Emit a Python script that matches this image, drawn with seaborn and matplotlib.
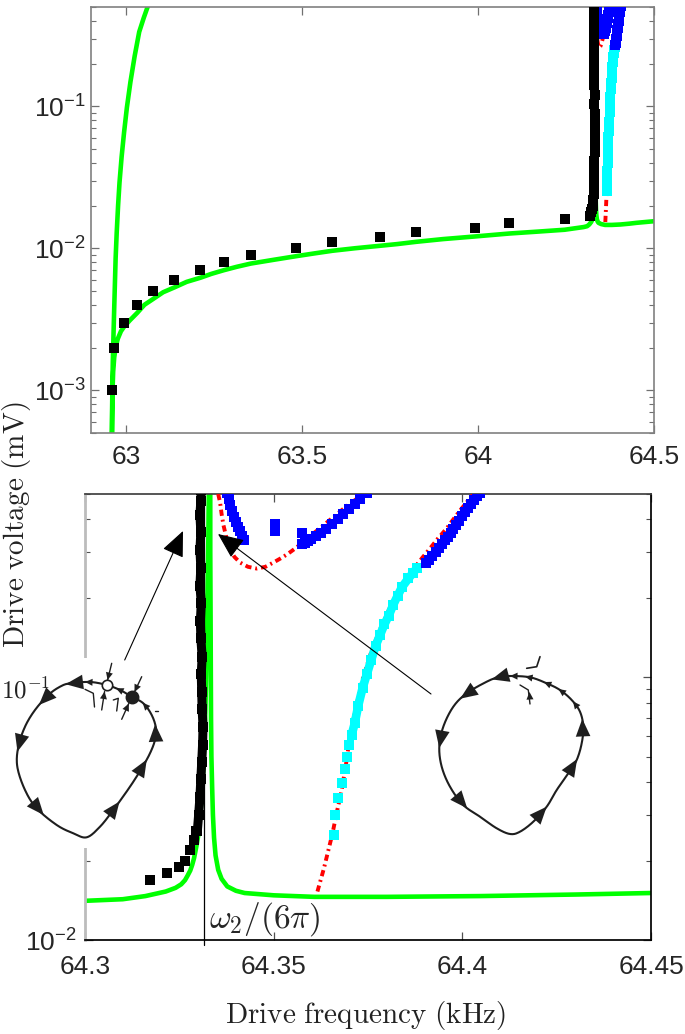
import numpy as np
import matplotlib
matplotlib.use("Agg")
import matplotlib.pyplot as plt
import seaborn as sns
from matplotlib.patches import Rectangle
from matplotlib.ticker import LogLocator, NullFormatter, FixedLocator, FixedFormatter, LogFormatterSciNotation

# ---------------- data ----------------
# theoretical response curve (green)
green_f = [63.066, 63.062, 63.050, 63.037, 63.024, 63.012, 63.002, 62.994, 62.987, 62.981,
           62.977, 62.973, 62.970, 62.968, 62.966, 62.964, 62.962, 62.961, 62.960, 62.9595,
           62.9592, 62.9600, 62.9612, 62.9630, 62.9660, 62.970, 62.976, 62.985, 62.994, 63.010,
           63.031, 63.052, 63.077, 63.105, 63.137, 63.172, 63.211, 63.242, 63.277, 63.314,
           63.354, 63.42, 63.484, 63.535, 63.586, 63.65, 63.72, 63.77, 63.824, 63.90,
           63.99, 64.04, 64.089, 64.17, 64.246, 64.30, 64.31, 64.316, 64.3214, 64.324,
           64.3255, 64.3265, 64.3272, 64.3279, 64.3284, 64.3289, 64.3293, 64.3297, 64.3301, 64.3305,
           64.3309, 64.3313, 64.3316, 64.3319, 64.3321, 64.3323, 64.3325, 64.3327, 64.3328, 64.3329,
           64.3332, 64.3332, 64.3333, 64.33335, 64.3334, 64.3335, 64.3337, 64.3339, 64.3342, 64.3346,
           64.3353, 64.3362, 64.3377, 64.3400, 64.3423, 64.350, 64.3608, 64.380, 64.4048, 64.430,
           64.450, 64.500]
green_v = [0.56, 0.51, 0.42, 0.334, 0.225, 0.148, 0.098, 0.0655, 0.044, 0.029,
           0.020, 0.0128, 0.0085, 0.0057, 0.0038, 0.0025, 0.0016, 0.00111, 0.00075, 0.00048,
           0.00040, 0.0006, 0.0010, 0.00135, 0.0017, 0.0020, 0.0023, 0.0026, 0.0028, 0.0031,
           0.0035, 0.0040, 0.0044, 0.0049, 0.0053, 0.0058, 0.0062, 0.0066, 0.0070, 0.0074,
           0.0078, 0.0083, 0.0088, 0.0092, 0.0096, 0.0100, 0.0104, 0.0107, 0.0111, 0.0116,
           0.0121, 0.0124, 0.0127, 0.0131, 0.0135, 0.0141, 0.0143, 0.0147, 0.0153, 0.0158,
           0.0163, 0.0169, 0.0176, 0.0184, 0.0193, 0.0205, 0.0219, 0.0235, 0.0255, 0.0295,
           0.0348, 0.044, 0.0555, 0.075, 0.103, 0.15, 0.224, 0.35, 0.50, 0.80,
           0.80, 0.30, 0.15, 0.10, 0.07, 0.05, 0.038, 0.030, 0.0245, 0.021,
           0.0185, 0.0171, 0.0160, 0.0154, 0.0151, 0.0148, 0.0146, 0.0146, 0.0147, 0.0149,
           0.0151, 0.0155]

# experimental points (black squares)
black_f = [62.96, 62.966, 62.994, 63.031, 63.077, 63.137, 63.211, 63.277, 63.354, 63.484,
           63.586, 63.72, 63.824, 63.99, 64.089, 64.246, 64.3171, 64.3218, 64.3249, 64.3264,
           64.3278, 64.3289, 64.3295]
black_v = [0.001, 0.002, 0.003, 0.004, 0.005, 0.006, 0.007, 0.008, 0.009, 0.010,
           0.011, 0.012, 0.013, 0.014, 0.015, 0.016, 0.017, 0.018, 0.019, 0.020,
           0.022, 0.024, 0.026]
# dense black column of experimental points
blackcol_f = [64.32977, 64.33012, 64.33046, 64.33070, 64.33093, 64.33116, 64.33128, 64.33104,
              64.33093, 64.33081, 64.33104, 64.33070, 64.33058, 64.33081, 64.33046, 64.33070,
              64.33046, 64.33070, 64.33046, 64.33070, 64.33080]
blackcol_v = [0.026, 0.030, 0.035, 0.041, 0.0475, 0.0555, 0.065, 0.0757,
              0.0883, 0.103, 0.12, 0.141, 0.164, 0.192, 0.224, 0.262,
              0.306, 0.357, 0.417, 0.47, 0.52]

# blue squares
blue1_f = [64.3377, 64.3381, 64.3385, 64.3390, 64.3395, 64.3400, 64.3406, 64.3412, 64.3417, 64.3421]
blue1_v = [0.505, 0.48, 0.455, 0.43, 0.41, 0.39, 0.375, 0.36, 0.345, 0.335]
blue2_f = [64.3504, 64.3504]
blue2_v = [0.385, 0.362]
blue3_f = [64.3576, 64.3574, 64.3582, 64.3590, 64.3600, 64.3612, 64.3625, 64.3640, 64.3655,
           64.3670, 64.3685, 64.3700, 64.3715, 64.3730, 64.3748]
blue3_v = [0.356, 0.322, 0.325, 0.330, 0.337, 0.345, 0.355, 0.367, 0.385,
           0.400, 0.418, 0.438, 0.458, 0.478, 0.505]
blue4_f = [64.3905, 64.3912, 64.3920, 64.3929, 64.3937, 64.3945, 64.3953, 64.3961, 64.3969,
           64.3976, 64.3984, 64.3992, 64.4000, 64.4008, 64.4016, 64.4024, 64.4032, 64.4040, 64.4048]
blue4_v = [0.272, 0.280, 0.290, 0.300, 0.312, 0.322, 0.333, 0.343, 0.355,
           0.368, 0.382, 0.396, 0.412, 0.428, 0.443, 0.46, 0.475, 0.49, 0.505]

# cyan squares
cyan_f = [64.36603, 64.36637, 64.36718, 64.36811, 64.36892, 64.36950, 64.37008, 64.37066,
          64.37147, 64.37240, 64.37356, 64.37471, 64.37587, 64.37703, 64.37819, 64.37935,
          64.38050, 64.38166, 64.38282, 64.38398, 64.38572, 64.38688, 64.38803]
cyan_v = [0.02514, 0.0300, 0.03481, 0.03967, 0.04463, 0.04975, 0.05511, 0.06048,
          0.0668, 0.07802, 0.0911, 0.1031, 0.1168, 0.1322, 0.1451, 0.1593,
          0.1721, 0.1889, 0.2042, 0.2207, 0.2384, 0.2498, 0.2617]
cyan_dense_from = 7

# red dash-dot curves
red1_f = [64.3353, 64.3358, 64.3362, 64.3367, 64.3375, 64.3384, 64.3396, 64.3411, 64.3432, 64.3455,
          64.3478, 64.3499, 64.3518, 64.3535, 64.3561, 64.3579, 64.3614, 64.3658, 64.3694, 64.3729, 64.3745]
red1_v = [0.50, 0.464, 0.42, 0.38, 0.34, 0.308, 0.288, 0.274, 0.264, 0.26,
          0.264, 0.274, 0.284, 0.294, 0.313, 0.33, 0.362, 0.408, 0.45, 0.49, 0.51]
red2_f = [64.3616, 64.3633, 64.3656, 64.3668, 64.3680, 64.3692, 64.3703, 64.3720, 64.3737, 64.3760,
          64.3784, 64.3807, 64.3830, 64.3853, 64.3877, 64.3894, 64.3911, 64.3935, 64.3958, 64.3976,
          64.3993, 64.4010, 64.4027, 64.4033]
red2_v = [0.0153, 0.0187, 0.0255, 0.031, 0.037, 0.047, 0.061, 0.079, 0.10, 0.127,
          0.155, 0.183, 0.211, 0.238, 0.266, 0.286, 0.306, 0.338, 0.369, 0.40,
          0.431, 0.462, 0.495, 0.51]

omega_f = 64.3315

top_xticks = [63, 63.5, 64, 64.5]
top_xlabels = ["63", "63.5", "64", "64.5"]
bot_xticks = [64.3, 64.35, 64.4, 64.45]
bot_xlabels = ["64.3", "64.35", "64.4", "64.45"]

# ---------------- style ----------------
sns.set_theme(style="white")
plt.rcParams["font.family"] = ["Liberation Sans", "DejaVu Sans"]

W, H = 685, 1034
fig = plt.figure(figsize=(W / 100, H / 100), dpi=100)


def fx(px):
    return px / W


def fy(py):
    return 1 - py / H


ax1 = fig.add_axes([fx(91), fy(433), fx(654 - 91), (433 - 7) / H])
ax2 = fig.add_axes([fx(85), fy(940), fx(651 - 85), (940 - 494) / H])

GREEN, RED, BLUE, CYAN = "#00ff00", "#ff0000", "#0000ff", "#00ffff"
MS = 46


def draw(ax):
    ax.set_yscale("log")
    sns.lineplot(x=green_f, y=green_v, ax=ax, color=GREEN, lw=3.3, sort=False,
                 estimator=None, zorder=2)
    for rf, rv in ((red1_f, red1_v), (red2_f, red2_v)):
        sns.lineplot(x=rf, y=rv, ax=ax, color=RED, lw=2.8, sort=False, estimator=None,
                     linestyle=(0, (1.6, 1.0, 0.5, 1.0)), zorder=3)
    sns.lineplot(x=cyan_f[cyan_dense_from:], y=cyan_v[cyan_dense_from:], ax=ax, color=CYAN,
                 lw=6.2, sort=False, estimator=None, zorder=4)
    sns.scatterplot(x=cyan_f, y=cyan_v, ax=ax, color=CYAN, marker="s", s=MS,
                    linewidth=0, zorder=4, legend=False)
    for bf, bv in ((blue1_f, blue1_v), (blue2_f, blue2_v), (blue3_f, blue3_v), (blue4_f, blue4_v)):
        sns.scatterplot(x=bf, y=bv, ax=ax, color=BLUE, marker="s", s=MS,
                        linewidth=0, zorder=4, legend=False)
    sns.lineplot(x=blackcol_f, y=blackcol_v, ax=ax, color="black", lw=6.5, sort=False,
                 estimator=None, zorder=5)
    sns.scatterplot(x=black_f + blackcol_f, y=black_v + blackcol_v, ax=ax, color="black",
                    marker="s", s=MS, linewidth=0, zorder=5, legend=False)


draw(ax1)
draw(ax2)

# ---- top panel axes ----
ax1.set_xlim(62.9, 64.5)
ax1.set_ylim(5e-4, 0.5)
ax1.set_xticks(top_xticks)
ax1.set_xticklabels(top_xlabels)
ax1.yaxis.set_major_locator(LogLocator(base=10))
ax1.yaxis.set_major_formatter(LogFormatterSciNotation())
ax1.yaxis.set_minor_locator(LogLocator(base=10, subs=np.arange(2, 10)))
ax1.yaxis.set_minor_formatter(NullFormatter())
for s in ax1.spines.values():
    s.set_color("#808080")
    s.set_linewidth(1.2)
ax1.tick_params(which="both", direction="in", top=True, right=True, left=True, bottom=True,
                color="#707070", labelsize=19, labelcolor="#262626")
ax1.tick_params(which="major", length=6, width=0.9)
ax1.tick_params(which="minor", length=3.5, width=0.8)
ax1.tick_params(axis="x", pad=9)
ax1.tick_params(axis="y", pad=4)
ax1.set_xlabel("")
ax1.set_ylabel("")

# ---- bottom panel axes ----
ax2.axvline(omega_f, ymin=-0.012, ymax=1.0, color="black", lw=0.9, zorder=6, clip_on=False)
ax2.set_xlim(64.3, 64.45)
ax2.set_ylim(0.01, 0.5)
ax2.set_xticks(bot_xticks)
ax2.set_xticklabels(bot_xlabels)
ax2.yaxis.set_major_locator(FixedLocator([0.01, 0.1]))
ax2.yaxis.set_major_formatter(FixedFormatter([r"$\mathdefault{10^{-2}}$", ""]))
ax2.yaxis.set_minor_locator(LogLocator(base=10, subs=np.arange(2, 10)))
ax2.yaxis.set_minor_formatter(NullFormatter())
ax2.spines["top"].set_color("#404040")
ax2.spines["right"].set_color("black")
ax2.spines["bottom"].set_color("black")
ax2.spines["left"].set_color("#bcbcbc")
ax2.spines["left"].set_linewidth(2.0)
ax2.tick_params(which="both", direction="in", top=True, right=True, left=True, bottom=True,
                color="#505050", labelsize=19, labelcolor="#262626")
ax2.tick_params(which="major", length=6, width=0.9)
ax2.tick_params(which="minor", length=3.5, width=0.8)
ax2.tick_params(axis="x", pad=11)
ax2.tick_params(axis="y", pad=6)
ax2.set_xlabel("")
ax2.set_ylabel("")

fig.text(fx(209), fy(919), r"$\omega_2/(6\pi)$", fontsize=24, math_fontfamily="cm",
         ha="left", va="center", zorder=7)

# axis titles (Computer Modern)
fig.text(fx(366), fy(1016), r"$\mathrm{Drive\ frequency\ (kHz)}$", fontsize=21,
         math_fontfamily="cm", ha="center", va="center", color="#222222")
fig.text(fx(17), fy(525), r"$\mathrm{Drive\ voltage\ (mV)}$", fontsize=21, rotation=90,
         math_fontfamily="cm", ha="center", va="center", color="#222222")

# ---------------- phase-portrait sketches (overlay in pixel coords) ----------------
ov = fig.add_axes([0, 0, 1, 1], zorder=10)
ov.set_xlim(0, W)
ov.set_ylim(H, 0)
ov.axis("off")
ov.patch.set_alpha(0)

INK = "#1e1e1e"


def closed_spline(pts, n=16):
    P = np.asarray(pts, float)
    m = len(P)
    segs = []
    t = np.linspace(0, 1, n, endpoint=False)[:, None]
    for i in range(m):
        p0, p1, p2, p3 = P[i - 1], P[i], P[(i + 1) % m], P[(i + 2) % m]
        seg = 0.5 * ((2 * p1) + (-p0 + p2) * t + (2 * p0 - 5 * p1 + 4 * p2 - p3) * t ** 2
                     + (-p0 + 3 * p1 - 3 * p2 + p3) * t ** 3)
        segs.append(seg)
    out = np.vstack(segs)
    return np.vstack([out, out[:1]])


def head(ax, a, b, scale=12, hw=0.24):
    ax.annotate("", xy=b, xytext=a,
                arrowprops=dict(arrowstyle=f"-|>,head_length=0.6,head_width={hw}", color=INK,
                                lw=0.01, mutation_scale=scale, shrinkA=0, shrinkB=0))


def loop(ax, pts, arrows, small=()):
    c = closed_spline(pts)
    ax.plot(c[:, 0], c[:, 1], color=INK, lw=1.5, solid_capstyle="round")
    N = len(c) - 1
    for (x, y) in arrows:
        i = int(np.argmin((c[:-1, 0] - x) ** 2 + (c[:-1, 1] - y) ** 2))
        head(ax, c[(i + 8) % N], c[(i - 8) % N], 21, 0.25)
    for (x, y) in small:
        i = int(np.argmin((c[:-1, 0] - x) ** 2 + (c[:-1, 1] - y) ** 2))
        head(ax, c[(i + 4) % N], c[(i - 4) % N], 9, 0.28)


# left sketch: white backing hides the spine, as in the original figure
ov.add_patch(Rectangle((0, 658), 168, 190, facecolor="white", edgecolor="none", zorder=0))
left_pts = [(70, 683.3), (90, 682), (106.7, 685), (120, 690), (131.7, 696.7), (143.3, 703.3),
            (151.7, 715), (156, 728.3), (155, 740), (150, 753.3), (141.7, 768.3), (130, 786.7),
            (113.3, 810), (100, 826.7), (86.7, 837.3), (73.3, 833.3), (56.7, 825), (36.7, 808.3),
            (25, 790), (17.3, 766.7), (18.3, 746.7), (25, 726.7), (35, 710), (48.3, 695), (60, 686.7)]
loop(ov, left_pts,
     arrows=[(71.7, 682.7), (48.3, 700), (23.3, 743.3), (35, 806.7), (113.3, 813.3),
             (141.7, 766.7), (154, 730.7)],
     small=[(90, 682.3), (119, 690), (145, 705)])
for (a, b) in [((111.7, 663.3), (107.6, 680)), ((101.7, 710), (104.6, 691.5)),
               ((141.7, 676.7), (134.5, 692)), ((121.7, 719.3), (128.8, 703.5))]:
    ov.plot([a[0], b[0]], [a[1], b[1]], color=INK, lw=1.0)
    head(ov, a, b, 9, 0.28)
ov.plot([85, 93.3, 94.5], [689.3, 693.3, 707], color=INK, lw=1.0)
ov.plot([113.3, 118.3, 116.7], [700, 698.3, 711], color=INK, lw=1.0)
ov.plot([155, 158], [711, 711], color=INK, lw=1.0)
ov.plot(106.7, 685, "o", mfc="white", mec=INK, ms=7.5, mew=1.2, zorder=5)
ov.plot(131.7, 696.7, "o", mfc=INK, mec=INK, ms=9, zorder=5)

# right sketch
right_pts = [(510, 676), (530, 677.3), (546.7, 683.3), (560, 690), (571.7, 700), (580, 711.7),
             (583.3, 726.7), (581.7, 743.3), (576.7, 760), (568.3, 773.3), (556.7, 790),
             (546.7, 806.7), (533.3, 821.7), (520, 831.7), (510, 834), (496.7, 828.3), (480, 816.7),
             (463.3, 805), (450, 786.7), (441.7, 766.7), (439.3, 746.7), (443.3, 726.7),
             (453.3, 706.7), (466.7, 693.3), (486.7, 681.7), (498.3, 677.3)]
loop(ov, right_pts,
     arrows=[(496.7, 677.7), (470, 696.7), (445, 738.3), (456.7, 803.3), (538.3, 813.3),
             (570, 763.3), (583.3, 726.7)],
     small=[(515, 676), (530, 678), (547, 684), (562, 691), (575, 704)])
ov.plot([520, 528.3, 530], [685, 690, 704], color=INK, lw=1.0)
head(ov, (530, 700), (529.5, 692), 9, 0.28)
ov.plot([526.7, 536.7, 540], [668.3, 666.7, 656.7], color=INK, lw=1.2)

# pointer arrows to the two branches
for tail, tip in [((124.7, 660), (183, 531)), ((431, 694), (218, 534))]:
    ov.annotate("", xy=tip, xytext=tail,
                arrowprops=dict(arrowstyle="-|>,head_length=0.8,head_width=0.35", color="black",
                                lw=0.8, mutation_scale=20, shrinkA=0, shrinkB=0))

# y tick label 10^-1 of the lower panel (Computer Modern, as in the original)
ov.text(50, 691, r"$10^{-1}$", fontsize=18, math_fontfamily="cm", ha="right", va="center",
        color="#222222", zorder=6)

fig.savefig("out.png", dpi=100)
